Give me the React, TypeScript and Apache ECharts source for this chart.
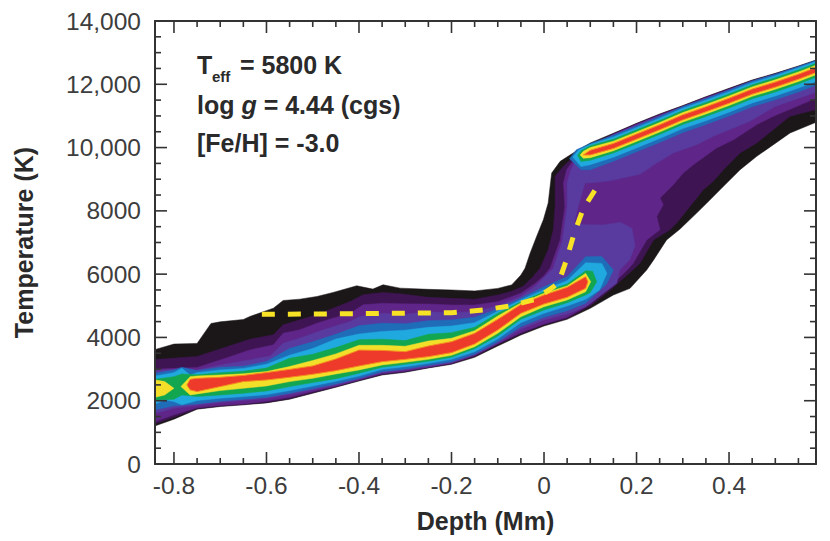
import { useEffect, useRef } from 'react';
import * as echarts from 'echarts';

type Pt = number[];

// Axis ticks
const xMajor = [-0.8, -0.6, -0.4, -0.2, 0, 0.2, 0.4];
const xMinor = [-0.75, -0.7, -0.65, -0.55, -0.5, -0.45, -0.35, -0.3, -0.25, -0.15, -0.1, -0.05, 0.05, 0.1, 0.15, 0.25, 0.3, 0.35, 0.45, 0.5, 0.55];
const yMajor = [0, 2000, 4000, 6000, 8000, 10000, 12000, 14000];
const yMinor = [500, 1000, 1500, 2500, 3000, 3500, 4500, 5000, 5500, 6500, 7000, 7500, 8500, 9000, 9500, 10500, 11000, 11500, 12500, 13000, 13500];
const yLabels: Record<number, string> = { 0: '0', 2000: '2000', 4000: '4000', 6000: '6000', 8000: '8000', 10000: '10,000', 12000: '12,000', 14000: '14,000' };

// Outer contours, traced along the top and back along the bottom
const blackEdge: Pt[] = [
  [-0.84, 3622], [-0.8, 3790], [-0.75, 3811], [-0.72, 4441], [-0.7, 4493], [-0.65, 4567], [-0.636, 4661], [-0.585, 4925], [-0.564, 5168], [-0.528, 5210], [-0.491, 5294], [-0.456, 5421], [-0.405, 5632], [-0.37, 5527], [-0.348, 5664], [-0.311, 5558], [-0.25, 5520], [-0.2, 5500], [-0.15, 5470], [-0.1, 5550], [-0.07, 5660], [-0.05, 5970], [-0.041, 6189], [-0.03, 6664], [-0.016, 7192], [-0.0014, 7719], [0.009, 8247], [0.014, 8880], [0.0166, 9196], [0.035, 9565], [0.063, 9829], [0.1, 10145], [0.15, 10452], [0.2, 10767], [0.25, 11062], [0.3, 11326], [0.35, 11610], [0.4, 11873], [0.45, 12136], [0.5, 12347], [0.55, 12579], [0.588, 12768],
  [0.588, 10800], [0.532, 10462], [0.496, 10093], [0.46, 9724], [0.424, 9302], [0.388, 8775], [0.352, 8247], [0.33, 7930], [0.294, 7424], [0.265, 7082], [0.237, 6450], [0.222, 6134], [0.186, 5551], [0.15, 5341], [0.1, 4919], [0.05, 4572], [0, 4361], [-0.05, 4077], [-0.1, 3729], [-0.15, 3371], [-0.2, 3150], [-0.25, 3034], [-0.3, 2898], [-0.35, 2813], [-0.4, 2624], [-0.45, 2425], [-0.5, 2236], [-0.55, 2047], [-0.6, 1931], [-0.65, 1869], [-0.7, 1816], [-0.75, 1732], [-0.8, 1417], [-0.84, 1207],
];
const darkEdge: Pt[] = [
  [-0.84, 3300], [-0.75, 3400], [-0.687, 3700], [-0.636, 3944], [-0.585, 4081], [-0.564, 4398], [-0.528, 4556], [-0.491, 4714], [-0.456, 4925], [-0.419, 5136], [-0.391, 5347], [-0.348, 5421], [-0.311, 5379], [-0.25, 5267], [-0.2, 5235], [-0.15, 5204], [-0.1, 5341], [-0.07, 5460], [-0.045, 5620], [-0.025, 5900], [-0.0086, 6189], [0.009, 6770], [0.02, 7403], [0.024, 8141], [0.024, 8669], [0.024, 9090], [0.042, 9407], [0.063, 9700], [0.1, 10093], [0.15, 10437], [0.2, 10752], [0.25, 11047], [0.3, 11311], [0.35, 11595], [0.4, 11858], [0.45, 12121], [0.5, 12332], [0.55, 12564], [0.588, 12753],
  [0.588, 11201], [0.532, 10990], [0.496, 10568], [0.46, 10146], [0.424, 9830], [0.388, 9302], [0.366, 8933], [0.3445, 8669], [0.3157, 8141], [0.2868, 7614], [0.2724, 7403], [0.237, 7082], [0.2076, 6345], [0.18, 5972], [0.15, 5583], [0.1, 4993], [0.05, 4600], [0, 4400], [-0.05, 4110], [-0.1, 3770], [-0.15, 3400], [-0.2, 3165], [-0.25, 3045], [-0.3, 2915], [-0.35, 2830], [-0.4, 2640], [-0.45, 2440], [-0.5, 2250], [-0.55, 2060], [-0.6, 1945], [-0.65, 1880], [-0.7, 1830], [-0.75, 1750], [-0.8, 1480], [-0.84, 1270],
];
const purpleEdge: Pt[] = [
  [-0.84, 2992], [-0.8, 3024], [-0.75, 3050], [-0.687, 3350], [-0.636, 3606], [-0.585, 3765], [-0.564, 4134], [-0.528, 4240], [-0.491, 4451], [-0.456, 4609], [-0.419, 4767], [-0.391, 5031], [-0.348, 5083], [-0.311, 5062], [-0.25, 5056], [-0.2, 5025], [-0.15, 5025], [-0.1, 5130], [-0.05, 5400], [-0.02, 5700], [0, 5950], [0.013, 6189], [0.035, 7086], [0.045, 8141], [0.042, 8880], [0.049, 9301], [0.067, 9671], [0.1, 10040], [0.15, 10422], [0.2, 10737], [0.25, 11032], [0.3, 11296], [0.35, 11580], [0.4, 11843], [0.45, 12106], [0.5, 12317], [0.55, 12549], [0.588, 12738],
  [0.588, 11557], [0.496, 10990], [0.46, 10726], [0.41, 10251], [0.373, 9988], [0.323, 9460], [0.301, 9196], [0.2796, 8827], [0.2508, 8405], [0.2579, 8194], [0.2437, 7825], [0.2508, 7403], [0.222, 7082], [0.193, 6345], [0.18, 6130], [0.15, 5709], [0.1, 5056], [0.05, 4635], [0, 4424], [-0.05, 4151], [-0.1, 3800], [-0.15, 3430], [-0.2, 3185], [-0.25, 3060], [-0.3, 2935], [-0.35, 2850], [-0.4, 2655], [-0.45, 2460], [-0.5, 2290], [-0.55, 2110], [-0.6, 1985], [-0.65, 1900], [-0.7, 1850], [-0.75, 1774], [-0.8, 1554], [-0.84, 1344],
];
const violetEdge: Pt[] = [
  [-0.84, 2950], [-0.8, 2992], [-0.75, 2971], [-0.7, 3129], [-0.636, 3290], [-0.592, 3417], [-0.564, 3817], [-0.528, 3976], [-0.477, 4240], [-0.419, 4503], [-0.398, 4662], [-0.348, 4767], [-0.311, 4714], [-0.25, 4814], [-0.2, 4782], [-0.15, 4814], [-0.1, 5000], [-0.05, 5300], [-0.02, 5600], [0.02, 6190], [0.04, 7086], [0.05, 8141], [0.05, 8880], [0.058, 9301], [0.07, 9640], [0.1, 10030], [0.15, 10402], [0.2, 10717], [0.25, 11012], [0.3, 11276], [0.35, 11560], [0.4, 11823], [0.45, 12086], [0.5, 12297], [0.55, 12529], [0.588, 12718],
  [0.588, 11750], [0.5, 11300], [0.4454, 10832], [0.41, 10621], [0.366, 10357], [0.33, 10093], [0.2796, 9829], [0.2437, 9513], [0.2076, 9160], [0.143, 8950], [0.1, 8880], [0.0887, 8880], [0.074, 8141], [0.065, 7613], [0.09, 7560], [0.128, 7556], [0.165, 7640], [0.19, 7450], [0.197, 6900], [0.185, 6450], [0.164, 6134], [0.157, 5709], [0.1, 5077], [0.09, 4972], [0.05, 4740], [0, 4551], [-0.05, 4256], [-0.1, 3814], [-0.15, 3445], [-0.2, 3203], [-0.25, 3077], [-0.3, 2971], [-0.35, 2887], [-0.4, 2677], [-0.45, 2488], [-0.5, 2341], [-0.55, 2194], [-0.6, 2068], [-0.65, 2005], [-0.7, 1942], [-0.75, 1858], [-0.8, 1764], [-0.84, 1606],
];

// Lower ridge, read at these depths
const ridgeDepth = [-0.75, -0.7, -0.65, -0.6, -0.55, -0.5, -0.45, -0.4, -0.35, -0.3, -0.25, -0.2, -0.15, -0.1, -0.05, 0, 0.05, 0.09];
const blueTop = [2950, 3055, 3090, 3240, 3650, 3860, 4100, 4370, 4450, 4430, 4530, 4551, 4635, 4900, 5240, 5600, 5920, 6551];
const blueBottom = [1900, 1984, 2047, 2110, 2236, 2383, 2530, 2708, 2919, 3003, 3119, 3235, 3477, 3866, 4340, 4635, 4846, 5077];
const cyanTop = [2887, 2971, 3020, 3150, 3440, 3650, 3950, 4110, 4190, 4230, 4319, 4361, 4467, 4830, 5180, 5510, 5793, 6362];
const cyanBottom = [2005, 2078, 2131, 2194, 2320, 2467, 2614, 2782, 2992, 3077, 3182, 3308, 3550, 3951, 4467, 4761, 4993, 5204];
const greenTop = [2824, 2887, 2930, 3030, 3340, 3470, 3680, 3930, 3944, 3900, 4098, 4151, 4319, 4761, 5130, 5446, 5688, 6109];
const greenBottom = [2131, 2183, 2236, 2309, 2446, 2572, 2698, 2866, 3055, 3150, 3245, 3371, 3645, 4045, 4572, 4867, 5098, 5341];
const yellowTop = [2782, 2813, 2850, 2920, 3080, 3270, 3480, 3750, 3750, 3720, 3887, 3972, 4214, 4677, 5090, 5393, 5625, 6025];
const yellowBottom = [2215, 2320, 2393, 2467, 2604, 2708, 2845, 2971, 3129, 3214, 3308, 3435, 3708, 4130, 4656, 4972, 5183, 5446];
const redTop = [2708, 2740, 2800, 2890, 2990, 3100, 3320, 3600, 3590, 3550, 3729, 3866, 4130, 4572, 5040, 5341, 5583, 5920];
const redBottom = [2289, 2446, 2604, 2656, 2740, 2835, 2950, 3097, 3234, 3308, 3393, 3519, 3793, 4235, 4761, 5056, 5267, 5551];

// Left end of the lower ridge and the right tip, per contour
const blueLeftTop: Pt[] = [[-0.84, 2866], [-0.8, 2971], [-0.783, 3055]];
const blueLeftBottom: Pt[] = [[-0.8, 1837], [-0.84, 1711]];
const blueTip: Pt[] = [[0.125, 6560], [0.15, 6130], [0.135, 5680]];
const cyanLeftTop: Pt[] = [[-0.84, 2782], [-0.8, 2887], [-0.783, 3024], [-0.765, 2813]];
const cyanLeftBottom: Pt[] = [[-0.765, 1942], [-0.783, 1869], [-0.8, 1973], [-0.82, 2026], [-0.84, 1900]];
const cyanTip: Pt[] = [[0.125, 6340], [0.136, 6025], [0.12, 5500]];
const greenLeftTop: Pt[] = [[-0.84, 2677], [-0.8, 2761], [-0.783, 2845]];
const greenLeftBottom: Pt[] = [[-0.783, 2183], [-0.8, 2047], [-0.84, 2026]];
const greenTip: Pt[] = [[0.105, 6090], [0.114, 5762], [0.1, 5420]];
const yellowLeftTop: Pt[] = [[-0.785, 2446], [-0.765, 2761]];
const yellowLeftBottom: Pt[] = [[-0.765, 2183]];
const yellowTip: Pt[] = [[0.101, 5762]];
const redLeftTop: Pt[] = [[-0.772, 2498], [-0.765, 2677]];
const redLeftBottom: Pt[] = [[-0.765, 2341]];
const redTip: Pt[] = [[0.095, 5762]];
const yellowWedge: Pt[] = [[-0.84, 2656], [-0.82, 2604], [-0.8, 2393], [-0.82, 2183], [-0.84, 2110]];

// Upper ridge, read at these depths
const upperDepth = [0.1, 0.15, 0.2, 0.25, 0.3, 0.35, 0.4, 0.45, 0.5, 0.55, 0.588];
const upperBlueTop = [10130, 10390, 10685, 10980, 11295, 11550, 11820, 12105, 12320, 12560, 12755];
const upperBlueBottom = [9300, 9570, 9865, 10160, 10475, 10730, 11000, 11290, 11510, 11760, 11970];
const upperCyanTop = [10100, 10335, 10630, 10925, 11240, 11495, 11765, 12050, 12270, 12520, 12720];
const upperCyanBottom = [9460, 9695, 9990, 10285, 10600, 10850, 11120, 11410, 11630, 11880, 12090];
const upperGreenTop = [10060, 10265, 10560, 10855, 11170, 11425, 11695, 11983, 12205, 12455, 12665];
const upperGreenBottom = [9600, 9830, 10120, 10415, 10730, 10985, 11250, 11540, 11760, 12010, 12220];
const upperYellowTop = [10000, 10200, 10495, 10790, 11105, 11360, 11630, 11918, 12140, 12390, 12600];
const upperYellowBottom = [9680, 9900, 10195, 10490, 10805, 11060, 11330, 11618, 11840, 12090, 12300];
const upperRedTop = [9915, 10131, 10426, 10721, 11035, 11290, 11560, 11848, 12070, 12320, 12530];
const upperRedBottom = [9765, 9971, 10266, 10561, 10875, 11130, 11400, 11688, 11910, 12160, 12370];
const upperBlueHead: Pt[] = [[0.08, 9300], [0.055, 9650], [0.07, 9930]];
const upperCyanHead: Pt[] = [[0.08, 9400], [0.062, 9700], [0.075, 9920]];
const upperGreenHead: Pt[] = [[0.08, 9560], [0.0727, 9760], [0.08, 9900]];
const upperYellowHead: Pt[] = [[0.085, 9660], [0.078, 9767], [0.085, 9880]];
const upperRedHead: Pt[] = [[0.085, 9767]];

// Dashed mean temperature line
const meanLine: Pt[] = [[-0.61, 4730], [-0.4, 4750], [-0.2, 4781], [-0.132, 4867], [-0.074, 4993], [-0.019, 5204], [0.031, 5709], [0.049, 6474], [0.0649, 7276], [0.0848, 8067], [0.12, 8880]];

function pairs(depth: number[], values: number[]): Pt[] {
  return depth.map((d, i) => [d, values[i]]);
}

// lower ridge contour: left end, top side, tip, bottom side back, left end
function ridge(leftTop: Pt[], top: number[], tip: Pt[], bottom: number[], leftBottom: Pt[]): Pt[] {
  return [...leftTop, ...pairs(ridgeDepth, top), ...tip, ...pairs(ridgeDepth, bottom).reverse(), ...leftBottom];
}

// upper ridge contour: head, top side, bottom side back
function upper(head: Pt[], top: number[], bottom: number[]): Pt[] {
  return [...head, ...pairs(upperDepth, top), ...pairs(upperDepth, bottom).reverse()];
}

const BLACK = '#1b1718';
const DARK = '#3f1452';
const PURPLE = '#5f2588';
const VIOLET = '#593a9e';
const BLUE = '#1f6cb8';
const CYAN = '#20a9de';
const GREEN = '#12a650';
const YELLOW = '#f3df2a';
const RED = '#ee3a2b';
const AXIS = '#333333';

const X_MIN = -0.841;
const X_MAX = 0.588;
const Y_MIN = 0;
const Y_MAX = 14000;
const MAJOR = 12;
const MINOR = 6;

function area(name: string, points: Pt[], fill: string, stroke?: string) {
  return {
    name,
    type: 'custom' as const,
    silent: true,
    data: points,
    encode: { x: 0, y: 1 },
    renderItem: (params: any, api: any) => {
      if (params.dataIndex !== 0) return null;
      return {
        type: 'polygon',
        shape: { points: points.map((p) => api.coord(p)) },
        style: { fill, stroke: stroke ?? fill, lineWidth: stroke ? 1 : 0.5 },
      };
    },
  };
}

// inward ticks on both opposite sides of the frame
function ticks(name: string, dim: 'x' | 'y', values: number[], length: number) {
  return {
    name,
    type: 'custom' as const,
    silent: true,
    z: 8,
    clip: false,
    data: values.map((v) => (dim === 'x' ? [v, Y_MIN] : [X_MIN, v])),
    encode: { x: 0, y: 1 },
    renderItem: (params: any, api: any) => {
      const v = values[params.dataIndex];
      const a = api.coord(dim === 'x' ? [v, Y_MIN] : [X_MIN, v]);
      const b = api.coord(dim === 'x' ? [v, Y_MAX] : [X_MAX, v]);
      const style = { stroke: AXIS, lineWidth: 1.6 };
      const shapes = dim === 'x'
        ? [{ x1: a[0], y1: a[1], x2: a[0], y2: a[1] - length }, { x1: b[0], y1: b[1], x2: b[0], y2: b[1] + length }]
        : [{ x1: a[0], y1: a[1], x2: a[0] + length, y2: a[1] }, { x1: b[0], y1: b[1], x2: b[0] - length, y2: b[1] }];
      return { type: 'group', children: shapes.map((shape) => ({ type: 'line', shape, style })) };
    },
  };
}

function frameAxis(min: number, max: number, position: string, extra: object = {}) {
  return {
    type: 'value',
    position,
    z: 10,
    min,
    max,
    splitLine: { show: false },
    axisLine: { show: true, onZero: false, lineStyle: { color: AXIS, width: 2 } },
    axisTick: { show: false },
    axisLabel: { show: false },
    ...extra,
  };
}

const noteFont = 'bold 25px Liberation Sans';
const titleStyle = { color: '#2a2a2a', fontSize: 25, fontWeight: 'bold', fontFamily: 'Liberation Sans' };

export default function App() {
  const ref = useRef<HTMLDivElement>(null);

  useEffect(() => {
    if (!ref.current) return;
    const chart = echarts.init(ref.current, undefined, { renderer: 'svg' });
    const label = { show: true, color: '#3d3d3d', fontSize: 24.5, fontFamily: 'Liberation Sans' };
    chart.setOption({
      animation: false,
      backgroundColor: '#ffffff',
      grid: { left: 155, right: 14, top: 21, height: 443 },
      xAxis: [
        frameAxis(X_MIN, X_MAX, 'bottom', {
          name: 'Depth (Mm)',
          nameLocation: 'middle',
          nameGap: 44,
          nameTextStyle: titleStyle,
          axisLabel: { ...label, customValues: xMajor, margin: 9, formatter: (v: number) => String(v) },
        }),
        frameAxis(X_MIN, X_MAX, 'top'),
      ],
      yAxis: [
        frameAxis(Y_MIN, Y_MAX, 'left', {
          name: 'Temperature (K)',
          nameLocation: 'middle',
          nameGap: 119,
          nameTextStyle: titleStyle,
          axisLabel: { ...label, customValues: yMajor, margin: 14, formatter: (v: number) => yLabels[v] },
        }),
        frameAxis(Y_MIN, Y_MAX, 'right'),
      ],
      series: [
        area('black', blackEdge, BLACK),
        area('dark', darkEdge, DARK),
        area('purple', purpleEdge, PURPLE),
        area('violet', violetEdge, VIOLET),
        area('blue', ridge(blueLeftTop, blueTop, blueTip, blueBottom, blueLeftBottom), BLUE),
        area('upper blue', upper(upperBlueHead, upperBlueTop, upperBlueBottom), BLUE),
        area('cyan', ridge(cyanLeftTop, cyanTop, cyanTip, cyanBottom, cyanLeftBottom), CYAN),
        area('upper cyan', upper(upperCyanHead, upperCyanTop, upperCyanBottom), CYAN),
        area('green', ridge(greenLeftTop, greenTop, greenTip, greenBottom, greenLeftBottom), GREEN),
        area('upper green', upper(upperGreenHead, upperGreenTop, upperGreenBottom), GREEN),
        area('yellow', ridge(yellowLeftTop, yellowTop, yellowTip, yellowBottom, yellowLeftBottom), YELLOW),
        area('yellow wedge', yellowWedge, YELLOW),
        area('upper yellow', upper(upperYellowHead, upperYellowTop, upperYellowBottom), YELLOW),
        area('red', ridge(redLeftTop, redTop, redTip, redBottom, redLeftBottom), RED, '#f58a1f'),
        area('upper red', upper(upperRedHead, upperRedTop, upperRedBottom), RED, '#f58a1f'),
        {
          name: 'mean',
          type: 'line',
          silent: true,
          z: 5,
          data: meanLine,
          symbol: 'none',
          lineStyle: { color: '#f7e226', width: 5, type: [13, 13] },
        },
        ticks('x major', 'x', xMajor, MAJOR),
        ticks('x minor', 'x', xMinor, MINOR),
        ticks('y major', 'y', yMajor, MAJOR),
        ticks('y minor', 'y', yMinor, MINOR),
      ],
      graphic: [
        { type: 'text', x: 197, y: 65, style: { text: 'T', fill: '#2a2a2a', font: noteFont, verticalAlign: 'middle' } },
        { type: 'text', x: 212, y: 76, style: { text: 'eff', fill: '#2a2a2a', font: 'bold 15px Liberation Sans', verticalAlign: 'middle' } },
        { type: 'text', x: 240, y: 65, style: { text: '= 5800 K', fill: '#2a2a2a', font: noteFont, verticalAlign: 'middle' } },
        {
          type: 'text',
          x: 197,
          y: 105,
          style: {
            text: '{b|log }{i|g}{b| = 4.44 (cgs)}',
            verticalAlign: 'middle',
            rich: {
              b: { fill: '#2a2a2a', font: noteFont },
              i: { fill: '#2a2a2a', font: 'italic bold 25px Liberation Sans' },
            },
          },
        },
        { type: 'text', x: 197, y: 143, style: { text: '[Fe/H] = -3.0', fill: '#2a2a2a', font: noteFont, verticalAlign: 'middle' } },
      ],
    });
    return () => chart.dispose();
  }, []);

  return <div ref={ref} style={{ position: 'fixed', left: 0, top: 0, width: 830, height: 541 }} />;
}
